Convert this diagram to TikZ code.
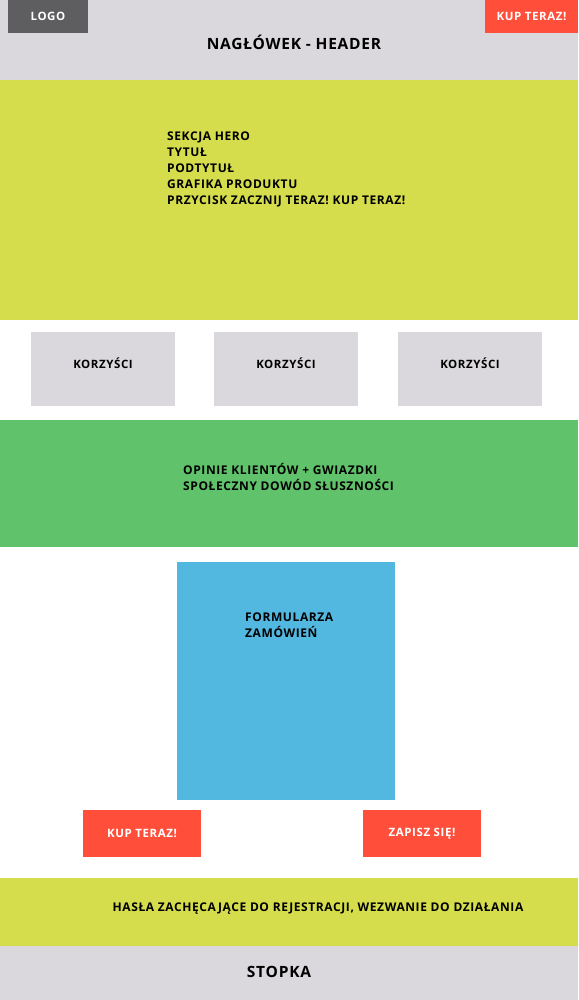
\documentclass[tikz,border=0pt]{standalone}
\usepackage{fontspec}
\setmainfont{Open Sans}[LetterSpace=5]
\definecolor{headgrey}{HTML}{DAD8DC}
\definecolor{logogrey}{HTML}{5E5D60}
\definecolor{kupred}{HTML}{FF4F3A}
\definecolor{herolime}{HTML}{D5DD4C}
\definecolor{opiniegreen}{HTML}{60C26A}
\definecolor{formblue}{HTML}{52B8E0}
\tikzset{
  band/.style={rectangle, inner sep=0pt, anchor=north west, minimum width=578pt},
  korzysc/.style={rectangle, fill=headgrey, inner sep=0pt, minimum width=144pt, minimum height=74pt,
    label={[font=\bfseries\fontsize{11.5}{13}\selectfont, yshift=6pt]center:KORZYŚCI}},
  button/.style={rectangle, fill=kupred, inner sep=0pt, text=white, font=\bfseries\fontsize{11.5}{13}\selectfont},
  blocktext/.style={inner sep=0pt, anchor=north west, align=left, font=\bfseries\fontsize{12}{16}\selectfont}
}
\begin{document}
\begin{tikzpicture}[x=1pt,y=-1pt]
         \useasboundingbox (0,0) rectangle (578,1000);
         % pasy strony
         \node [band, fill=headgrey, minimum height=80pt] (header) at (0,0) {};
         \node [band, fill=herolime, minimum height=240pt] (hero) at (0,80) {};
         \node [band, fill=white, minimum height=100pt] (benefits) at (0,320) {};
         \node [band, fill=opiniegreen, minimum height=127pt] (opinie) at (0,420) {};
         \node [band, fill=white, minimum height=331pt] (order) at (0,547) {};
         \node [band, fill=herolime, minimum height=68pt] (cta) at (0,878) {};
         \node [band, fill=headgrey, minimum height=54pt] (footer) at (0,946) {};

         % naglowek
         \node [button, fill=logogrey, minimum width=80pt, minimum height=33pt] (logo) at (48,16.5) {LOGO};
         \node [button, minimum width=93pt, minimum height=33pt] (kuptop) at (531.5,16.5) {KUP TERAZ!};
         \node [inner sep=0pt, font=\bfseries\fontsize{15.5}{18}\selectfont] (headtxt) at (294,42) {NAGŁÓWEK - HEADER};

         % hero
         \node [blocktext] (herotxt) at (167,131.5) {SEKCJA HERO\\TYTUŁ\\PODTYTUŁ\\GRAFIKA PRODUKTU\\PRZYCISK ZACZNIJ TERAZ! KUP TERAZ!};

         % korzysci
         \node [korzysc] (k1) at (103,369) {};
         \node [korzysc] (k2) at (286,369) {};
         \node [korzysc] (k3) at (470,369) {};

         % opinie
         \node [blocktext] (opinietxt) at (183,463.5) {OPINIE KLIENTÓW + GWIAZDKI\\SPOŁECZNY DOWÓD SŁUSZNOŚCI};

         % formularz
         \node [rectangle, fill=formblue, inner sep=0pt, minimum width=218pt, minimum height=238pt] (form) at (286,681) {};
         \node [blocktext] (formtxt) at (245,612.5) {FORMULARZA\\ZAMÓWIEŃ};
         \node [button, minimum width=118pt, minimum height=47pt] (kupbtn) at (142,833.5) {KUP TERAZ!};
         \node [button, minimum width=118pt, minimum height=47pt] (zapisz) at (422,833.5) {ZAPISZ SIĘ!};

         % wezwanie i stopka
         \node [inner sep=0pt, font=\bfseries\fontsize{12}{14}\selectfont] (ctatxt) at (318,909) {HASŁA ZACHĘCAJĄCE DO REJESTRACJI, WEZWANIE DO DZIAŁANIA};
         \node [inner sep=0pt, font=\bfseries\fontsize{15.5}{18}\selectfont] (stopka) at (279,972) {STOPKA};
\end{tikzpicture}
\end{document}
